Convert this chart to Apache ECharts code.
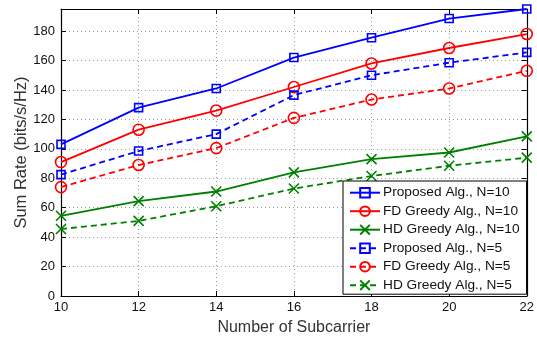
<!DOCTYPE html>
<html>
<head>
<meta charset="utf-8">
<script src="https://cdn.jsdelivr.net/npm/echarts@6/dist/echarts.min.js"></script>
<style>html,body{margin:0;padding:0;background:#fff}#c{width:537px;height:341px}</style>
</head>
<body>
<div id="c"></div>
<script>
var subcarriers = [10, 12, 14, 16, 18, 20, 22];
var proposedN10 = [103, 128, 141, 162, 175.5, 188.5, 195];
var fdGreedyN10 = [91, 113, 126, 142, 158, 168.5, 178];
var hdGreedyN10 = [54.5, 64.5, 71, 84, 93, 97.5, 108.5];
var proposedN5 = [82.5, 98.5, 110, 136.5, 150, 158.5, 165.5];
var fdGreedyN5 = [74, 89, 100.5, 121, 133.5, 141, 153];
var hdGreedyN5 = [45.5, 51, 61, 73, 81.5, 88.5, 94];
var seriesNames = ['Proposed Alg., N=10', 'FD Greedy Alg., N=10', 'HD Greedy Alg., N=10',
                   'Proposed Alg., N=5', 'FD Greedy Alg., N=5', 'HD Greedy Alg., N=5'];
var xTitle = 'Number of Subcarrier';
var yTitle = 'Sum Rate (bits/s/Hz)';

var BLUE = '#0000ff', RED = '#ff0000', GREEN = '#008000';
var XSYM = 'path://M0,0L10,10M10,0L0,10';
function pairs(arr) { return subcarriers.map(function (x, i) { return [x, arr[i]]; }); }
function mk(name, arr, color, symbol, size, dashed) {
  return {
    name: name, type: 'line', data: pairs(arr), xAxisIndex: 0, yAxisIndex: 0,
    symbol: symbol, symbolSize: size, showSymbol: true,
    lineStyle: { color: color, width: 1.8, type: dashed ? [6, 4] : 'solid' },
    itemStyle: { color: 'rgba(255,255,255,0)', borderColor: color, borderWidth: 1.6 },
    emphasis: { disabled: true }, animation: false
  };
}
var series = [
  mk(seriesNames[0], proposedN10, BLUE, 'rect', 8, false),
  mk(seriesNames[1], fdGreedyN10, RED, 'circle', 11, false),
  mk(seriesNames[2], hdGreedyN10, GREEN, XSYM, 10, false),
  mk(seriesNames[3], proposedN5, BLUE, 'rect', 8, true),
  mk(seriesNames[4], fdGreedyN5, RED, 'circle', 11, true),
  mk(seriesNames[5], hdGreedyN5, GREEN, XSYM, 10, true)
];
var FONT = 'Liberation Sans';
var axisLineStyle = { onZero: false, lineStyle: { color: '#000', width: 1.2 } };
var chart = echarts.init(document.getElementById('c'), null, { renderer: 'canvas' });
chart.setOption({
  animation: false,
  backgroundColor: '#fff',
  grid: { left: 61, right: 8, top: 9, bottom: 42 },
  xAxis: [{
    type: 'value', min: 10, max: 22, interval: 2, position: 'bottom',
    name: xTitle, nameLocation: 'middle', nameGap: 24, nameMoveOverlap: false,
    nameTextStyle: { fontFamily: FONT, fontSize: 16, color: '#333' },
    axisLine: axisLineStyle,
    axisTick: { inside: true, length: 5, lineStyle: { color: '#000' } },
    axisLabel: { fontFamily: FONT, fontSize: 13, color: '#111', margin: 5 },
    splitLine: { show: true, lineStyle: { color: '#999', type: [1, 3], width: 1 } }
  }, {
    type: 'value', min: 10, max: 22, interval: 2, position: 'top',
    axisLine: axisLineStyle,
    axisTick: { inside: true, length: 5, lineStyle: { color: '#000' } },
    axisLabel: { show: false }, splitLine: { show: false }
  }],
  yAxis: [{
    type: 'value', min: 0, max: 195, interval: 20, position: 'left',
    name: yTitle, nameLocation: 'middle', nameGap: 31, nameMoveOverlap: false,
    nameTextStyle: { fontFamily: FONT, fontSize: 16.5, color: '#333' },
    axisLine: axisLineStyle,
    axisTick: { inside: true, length: 5, lineStyle: { color: '#000' } },
    axisLabel: { fontFamily: FONT, fontSize: 13, color: '#111', margin: 6, showMaxLabel: false },
    splitLine: { show: true, lineStyle: { color: '#999', type: [1, 3], width: 1 } }
  }, {
    type: 'value', min: 0, max: 195, interval: 20, position: 'right',
    axisLine: { show: true, onZero: false, lineStyle: { color: '#000', width: 1.2 } },
    axisTick: { show: true, inside: true, length: 5, lineStyle: { color: '#000' } },
    axisLabel: { show: false }, splitLine: { show: false }
  }],
  legend: {
    data: seriesNames, orient: 'vertical', left: 343, top: 181,
    backgroundColor: '#fff', borderColor: '#000', borderWidth: 1,
    padding: [4.7, 7, 2, 6], itemWidth: 30, itemHeight: 12, itemGap: 4.5,
    textStyle: { fontFamily: FONT, fontSize: 13.7, lineHeight: 14, color: '#111', padding: [0, 0, 0, -2] },
    selectedMode: false
  },
  series: series
});
</script>
</body>
</html>
